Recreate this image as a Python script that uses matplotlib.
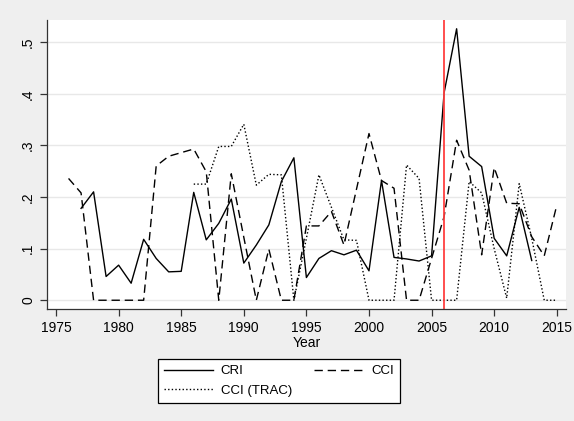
import numpy as np
import matplotlib.pyplot as plt
from matplotlib.lines import Line2D

plt.rcParams['font.family'] = ['Liberation Sans', 'DejaVu Sans']

# index values by year
cri_years = list(range(1977, 2014))
cri = [0.178, 0.210, 0.046, 0.068, 0.033, 0.118, 0.081, 0.055, 0.056, 0.209,
       0.117, 0.149, 0.196, 0.072, 0.107, 0.146, 0.230, 0.276, 0.044, 0.081,
       0.096, 0.088, 0.097, 0.057, 0.232, 0.083, 0.080, 0.076, 0.086, 0.402,
       0.526, 0.279, 0.259, 0.120, 0.086, 0.180, 0.077]

cci_years = list(range(1976, 2016))
cci = [0.236, 0.208, 0.0, 0.0, 0.0, 0.0, 0.0, 0.260, 0.279, 0.286,
       0.293, 0.249, 0.0, 0.245, 0.122, 0.0, 0.099, 0.0, 0.0, 0.144,
       0.144, 0.172, 0.107, 0.215, 0.323, 0.232, 0.217, 0.0, 0.0, 0.081,
       0.162, 0.310, 0.252, 0.088, 0.257, 0.188, 0.187, 0.123, 0.086, 0.184]

trac_years = list(range(1986, 2016))
trac = [0.225, 0.225, 0.298, 0.298, 0.341, 0.223, 0.244, 0.243, 0.0, 0.120,
        0.243, 0.180, 0.117, 0.116, 0.0, 0.0, 0.0, 0.262, 0.236, 0.0,
        0.0, 0.0, 0.230, 0.208, 0.100, 0.004, 0.226, 0.120, 0.0, 0.0]

event_year = 2006
xticks = [1975, 1980, 1985, 1990, 1995, 2000, 2005, 2010, 2015]
yticks = [0, 0.1, 0.2, 0.3, 0.4, 0.5]
ylabels = ['0', '.1', '.2', '.3', '.4', '.5']

fig = plt.figure(figsize=(5.74, 4.21), dpi=100, facecolor='#efefef')
ax = fig.add_axes([0.0819, 0.266, 0.904, 0.6865])
ax.set_facecolor('white')

for y in yticks:
    ax.axhline(y, color='#e8e8e8', lw=1.0, zorder=0)

l1, = ax.plot(cri_years, cri, color='black', lw=1.0, label='CRI')
l2, = ax.plot(cci_years, cci, color='black', lw=1.0, dashes=(6, 3.5), label='CCI')
l3, = ax.plot(trac_years, trac, color='black', lw=1.0, dashes=(1, 1.6), label='CCI (TRAC)')
ax.axvline(event_year, color='#ff4040', lw=1.3)

ax.set_xlim(1974.28, 2015.73)
ax.set_ylim(-0.017, 0.543)
ax.set_xticks(xticks)
ax.set_yticks(yticks)
ax.set_yticklabels(ylabels, rotation=90, va='center')
ax.tick_params(labelsize=10, length=5, width=0.9, color='#333333')
ax.set_xlabel('Year', fontsize=10, labelpad=1)

for s in ['top', 'right']:
    ax.spines[s].set_visible(False)
for s in ['left', 'bottom']:
    ax.spines[s].set_color('#333333')
    ax.spines[s].set_linewidth(0.9)

# column-major fill: CRI / CCI (TRAC) in the first column, CCI in the second
leg = fig.legend(handles=[l1, l3, l2], ncol=2, loc='center',
                 bbox_to_anchor=(0.486, 0.095), fontsize=9.5,
                 frameon=True, fancybox=False, edgecolor='black',
                 handlelength=3.7, columnspacing=1.7, handletextpad=0.6,
                 borderpad=0.45, labelspacing=0.55)
leg.get_frame().set_linewidth(0.9)
leg.get_frame().set_facecolor('white')
leg.get_frame().set_alpha(1)

fig.savefig('out.png', dpi=100, facecolor=fig.get_facecolor())
